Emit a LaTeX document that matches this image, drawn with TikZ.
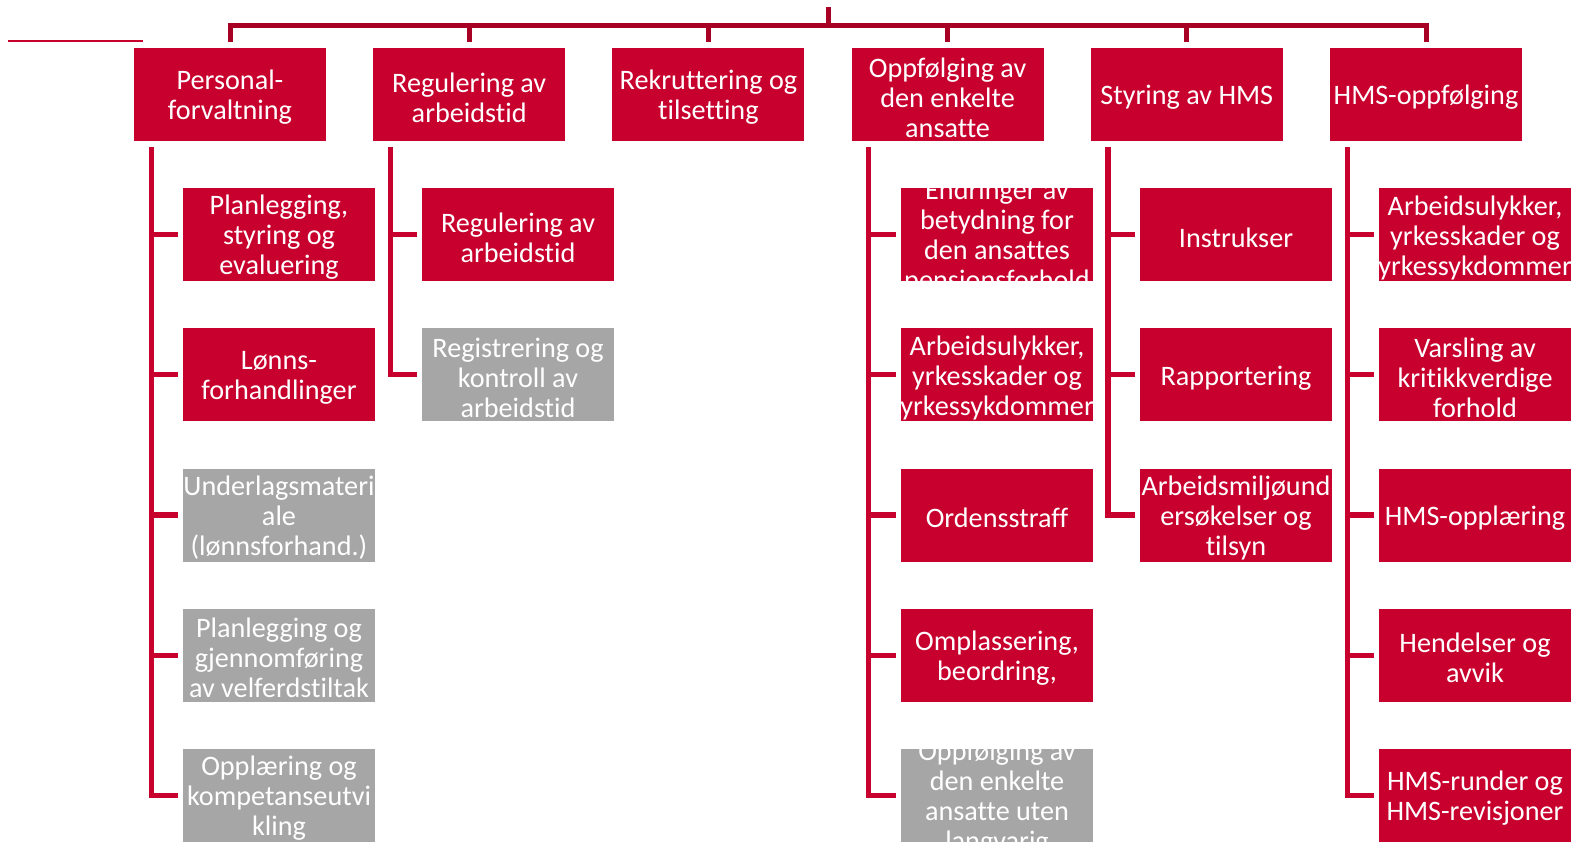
\documentclass[tikz,border=0pt]{standalone}
\usepackage{fontspec}
\setmainfont[Ligatures=NoCommon]{Carlito}
\definecolor{hmsred}{RGB}{200,0,46}
\definecolor{hmsgray}{RGB}{166,166,166}
\definecolor{linered}{RGB}{168,0,36}
\begin{document}
\begin{tikzpicture}[x=0.5pt,y=-0.5pt,
  txt/.style={text=white,align=center,font=\fontsize{14.1}{15}\selectfont,minimum width=0pt,minimum height=0pt,yshift=-1.5pt},
  rbox/.style={fill=hmsred,path picture={\node[txt] at (path picture bounding box.center) {#1};}},
  gbox/.style={fill=hmsgray,path picture={\node[txt] at (path picture bounding box.center) {#1};}},
  bar/.style={draw=linered,line width=2.5pt},
  conn/.style={draw=hmsred,line width=2.6pt}]
\useasboundingbox (0,0) rectangle (1577,842);
\tikzstyle{every node}=[rectangle,minimum width=96pt,minimum height=46.5pt,inner sep=0pt]
\draw[hmsred,line width=1pt] (8,40.5) -- (143,40.5);
\node[rbox={Personal-\\forvaltning}](h1) at (230,94.5) {};
\node[rbox={Regulering av\\arbeidstid}](h2) at (469.2,94.5) {};
\node[rbox={Rekruttering og\\tilsetting}](h3) at (708.4,94.5) {};
\node[rbox={Oppfølging av\\den enkelte\\ansatte}](h4) at (947.6,94.5) {};
\node[rbox={Styring av HMS}](h5) at (1186.8,94.5) {};
\node[rbox={HMS-oppfølging}](h6) at (1426,94.5) {};
\node[rbox={Planlegging,\\styring og\\evaluering}](a1) at (279,234.5) {};
\node[rbox={Lønns-\\forhandlinger}](a2) at (279,374.75) {};
\node[gbox={Underlagsmateri\\ale\\(lønnsforhand.)}](a3) at (279,515) {};
\node[gbox={Planlegging og\\gjennomføring\\av velferdstiltak}](a4) at (279,655.25) {};
\node[gbox={Opplæring og\\kompetanseutvi\\kling}](a5) at (279,795.5) {};
\node[rbox={Regulering av\\arbeidstid}](b1) at (518,234.5) {};
\node[gbox={Registrering og\\kontroll av\\arbeidstid}](b2) at (518,374.75) {};
\node[rbox={Endringer av\\betydning for\\den ansattes\\pensjonsforhold}](d1) at (997,234.5) {};
\node[rbox={Arbeidsulykker,\\yrkesskader og\\yrkessykdommer}](d2) at (997,374.75) {};
\node[rbox={Ordensstraff}](d3) at (997,515) {};
\node[rbox={Omplassering,\\beordring,}](d4) at (997,655.25) {};
\node[gbox={Oppfølging av\\den enkelte\\ansatte uten\\langvarig}](d5) at (997,795.5) {};
\node[rbox={Instrukser}](e1) at (1236,234.5) {};
\node[rbox={Rapportering}](e2) at (1236,374.75) {};
\node[rbox={Arbeidsmiljøund\\ersøkelser og\\tilsyn}](e3) at (1236,515) {};
\node[rbox={Arbeidsulykker,\\yrkesskader og\\yrkessykdommer}](f1) at (1475,234.5) {};
\node[rbox={Varsling av\\kritikkverdige\\forhold}](f2) at (1475,374.75) {};
\node[rbox={HMS-opplæring}](f3) at (1475,515) {};
\node[rbox={Hendelser og\\avvik}](f4) at (1475,655.25) {};
\node[rbox={HMS-runder og\\HMS-revisjoner}](f5) at (1475,795.5) {};
\coordinate (root) at (828,7);
\draw[bar] ([yshift=3pt]h1.north) -- ++(0,8.25pt) coordinate (bl) -| ([yshift=3pt]h6.north);
\draw[bar] (root) -- (root |- bl);
\foreach \h in {h2,h3,h4,h5} \draw[bar] ([yshift=3pt]\h.north) -- (\h.north |- bl);
\coordinate (ta) at ([xshift=8.75pt,yshift=-3pt]h1.south west);
\coordinate (tb) at ([xshift=8.75pt,yshift=-3pt]h2.south west);
\coordinate (td) at ([xshift=8.75pt,yshift=-3pt]h4.south west);
\coordinate (te) at ([xshift=8.75pt,yshift=-3pt]h5.south west);
\coordinate (tf) at ([xshift=8.75pt,yshift=-3pt]h6.south west);
\draw[conn] (ta) |- ([xshift=-2.5pt]a5.west);
\foreach \c in {a1,a2,a3,a4} \draw[conn] (ta |- \c.west) -- ([xshift=-2.5pt]\c.west);
\draw[conn] (tb) |- ([xshift=-2.5pt]b2.west);
\draw[conn] (tb |- b1.west) -- ([xshift=-2.5pt]b1.west);
\draw[conn] (td) |- ([xshift=-2.5pt]d5.west);
\foreach \c in {d1,d2,d3,d4} \draw[conn] (td |- \c.west) -- ([xshift=-2.5pt]\c.west);
\draw[conn] (te) |- ([xshift=-2.5pt]e3.west);
\foreach \c in {e1,e2} \draw[conn] (te |- \c.west) -- ([xshift=-2.5pt]\c.west);
\draw[conn] (tf) |- ([xshift=-2.5pt]f5.west);
\foreach \c in {f1,f2,f3,f4} \draw[conn] (tf |- \c.west) -- ([xshift=-2.5pt]\c.west);
\end{tikzpicture}
\end{document}
